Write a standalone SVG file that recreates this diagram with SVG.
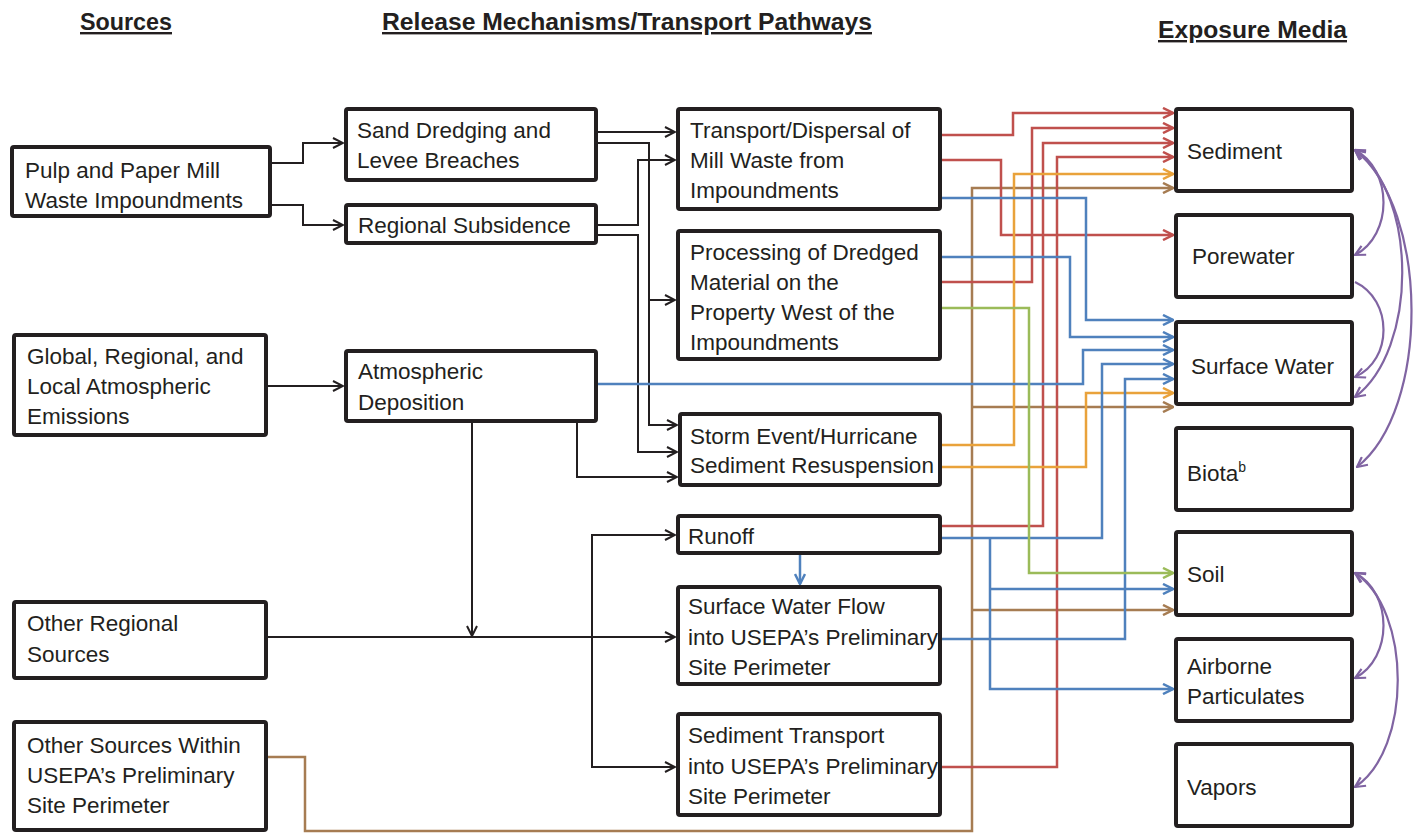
<svg xmlns="http://www.w3.org/2000/svg" width="1414" height="834" viewBox="0 0 1414 834">
<style>
.box{fill:#fff;stroke:#231f20;stroke-width:4}
.t{font-family:"Liberation Sans",Arial,sans-serif;font-size:22.5px;fill:#231f20}
.h{font-family:"Liberation Sans",Arial,sans-serif;font-weight:bold;font-size:24px;fill:#231f20;text-decoration:underline}
.k{fill:none;stroke:#231f20;stroke-width:2;marker-end:url(#mk)}
.kn{fill:none;stroke:#231f20;stroke-width:2}
.r{fill:none;stroke:#c0504d;stroke-width:2.5;marker-end:url(#mr)}
.b{fill:none;stroke:#4f81bd;stroke-width:2.5;marker-end:url(#mb)}
.bn{fill:none;stroke:#4f81bd;stroke-width:2.5}
.o{fill:none;stroke:#e9a23b;stroke-width:2.5;marker-end:url(#mo)}
.br{fill:none;stroke:#a67c52;stroke-width:2.5;marker-end:url(#mbr)}
.brn{fill:none;stroke:#a67c52;stroke-width:2.5}
.g{fill:none;stroke:#9bbb59;stroke-width:2.5;marker-end:url(#mg)}
.p{fill:none;stroke:#8064a2;stroke-width:2.2;marker-end:url(#mp);marker-start:url(#mp)}
.p1{fill:none;stroke:#8064a2;stroke-width:2.2;marker-end:url(#mp)}
</style>
<defs>
<marker id="mk" viewBox="0 0 12 12" refX="11" refY="6" markerWidth="12" markerHeight="12" markerUnits="userSpaceOnUse" orient="auto-start-reverse"><path d="M1,1 L11,6 L1,11" fill="none" stroke="#231f20" stroke-width="2"/></marker>
<marker id="mr" viewBox="0 0 12 12" refX="11" refY="6" markerWidth="12" markerHeight="12" markerUnits="userSpaceOnUse" orient="auto-start-reverse"><path d="M1,1 L11,6 L1,11" fill="none" stroke="#c0504d" stroke-width="2.5"/></marker>
<marker id="mb" viewBox="0 0 12 12" refX="11" refY="6" markerWidth="12" markerHeight="12" markerUnits="userSpaceOnUse" orient="auto-start-reverse"><path d="M1,1 L11,6 L1,11" fill="none" stroke="#4f81bd" stroke-width="2.5"/></marker>
<marker id="mo" viewBox="0 0 12 12" refX="11" refY="6" markerWidth="12" markerHeight="12" markerUnits="userSpaceOnUse" orient="auto-start-reverse"><path d="M1,1 L11,6 L1,11" fill="none" stroke="#e9a23b" stroke-width="2.5"/></marker>
<marker id="mbr" viewBox="0 0 12 12" refX="11" refY="6" markerWidth="12" markerHeight="12" markerUnits="userSpaceOnUse" orient="auto-start-reverse"><path d="M1,1 L11,6 L1,11" fill="none" stroke="#a67c52" stroke-width="2.5"/></marker>
<marker id="mg" viewBox="0 0 12 12" refX="11" refY="6" markerWidth="12" markerHeight="12" markerUnits="userSpaceOnUse" orient="auto-start-reverse"><path d="M1,1 L11,6 L1,11" fill="none" stroke="#9bbb59" stroke-width="2.5"/></marker>
<marker id="mp" viewBox="0 0 12 12" refX="11" refY="6" markerWidth="12" markerHeight="12" markerUnits="userSpaceOnUse" orient="auto-start-reverse"><path d="M1,1 L11,6 L1,11" fill="none" stroke="#8064a2" stroke-width="2.2"/></marker>
</defs>
<rect width="1414" height="834" fill="#fff"/>

<g id="headers">
<text class="h" x="80" y="30" textLength="92" lengthAdjust="spacingAndGlyphs">Sources</text>
<text class="h" x="382" y="30" textLength="490" lengthAdjust="spacingAndGlyphs">Release Mechanisms/Transport Pathways</text>
<text class="h" x="1158" y="38" textLength="189" lengthAdjust="spacingAndGlyphs">Exposure Media</text>
</g>

<g id="connectors">
<!-- black -->
<path class="k" d="M272,163 H303 V143 H343"/>
<path class="k" d="M272,205 H303 V225 H343"/>
<path class="k" d="M598,132 H675"/>
<path class="k" d="M598,143 H649 V425 H677"/>
<path class="k" d="M649,300 H675"/>
<path class="k" d="M598,225 H638 V160 H675"/>
<path class="k" d="M598,235 H638 V452 H677"/>
<path class="k" d="M577,423 V477 H677"/>
<path class="k" d="M268,386 H343"/>
<path class="k" d="M472,423 V636"/>
<path class="k" d="M268,637 H675"/>
<path class="k" d="M592,637 V535 H675"/>
<path class="k" d="M592,637 V767 H675"/>
<path class="b" d="M800,555 V584"/>
<!-- brown -->
<path class="br" d="M268,757 H305 V831 H972 V188 H1173"/>
<path class="br" d="M972,407 H1173"/>
<path class="br" d="M972,610 H1173"/>
<!-- red -->
<path class="r" d="M942,135 H1013 V113 H1173"/>
<path class="r" d="M942,160 H1001 V235 H1173"/>
<path class="r" d="M942,282 H1032 V128 H1173"/>
<path class="r" d="M942,526 H1043 V143 H1173"/>
<path class="r" d="M942,767 H1057 V157 H1173"/>
<!-- orange -->
<path class="o" d="M942,445 H1014 V174 H1173"/>
<path class="o" d="M942,467 H1086 V393 H1173"/>
<!-- blue -->
<path class="b" d="M942,198 H1086 V320 H1173"/>
<path class="b" d="M942,257 H1070 V337 H1173"/>
<path class="b" d="M598,384 H1083 V350 H1173"/>
<path class="b" d="M942,538 H1102 V364 H1173"/>
<path class="b" d="M942,639 H1125 V379 H1173"/>
<path class="b" d="M990,538 V689 H1173"/>
<path class="b" d="M990,589 H1173"/>
<!-- green -->
<path class="g" d="M942,308 H1029 V573 H1173"/>
<!-- purple -->
<path class="p" d="M1355,150 C1393,170 1393,235 1355,255"/>
<path class="p1" d="M1355,282 C1393,300 1393,360 1355,377"/>
<path class="p" d="M1355,150 C1418,195 1418,350 1355,397"/>
<path class="p" d="M1355,150 C1430,210 1430,410 1357,467"/>
<path class="p" d="M1355,573 C1393,593 1393,658 1355,678"/>
<path class="p" d="M1355,573 C1412,610 1412,750 1355,787"/>
</g>

<g id="n-pulp"><rect class="box" x="12" y="147" width="258" height="69" rx="2"/>
<text class="t" x="25" y="178">Pulp and Paper Mill</text><text class="t" x="25" y="208">Waste Impoundments</text></g>
<g id="n-global"><rect class="box" x="14" y="335" width="252" height="100" rx="2"/>
<text class="t" x="27" y="364">Global, Regional, and</text><text class="t" x="27" y="394">Local Atmospheric</text><text class="t" x="27" y="424">Emissions</text></g>
<g id="n-otherregional"><rect class="box" x="14" y="602" width="252" height="76" rx="2"/>
<text class="t" x="27" y="631">Other Regional</text><text class="t" x="27" y="662">Sources</text></g>
<g id="n-othersources"><rect class="box" x="14" y="722" width="252" height="108" rx="2"/>
<text class="t" x="27" y="753">Other Sources Within</text><text class="t" x="27" y="783">USEPA’s Preliminary</text><text class="t" x="27" y="813">Site Perimeter</text></g>

<g id="n-sand"><rect class="box" x="346" y="109" width="250" height="71" rx="2"/>
<text class="t" x="357" y="138">Sand Dredging and</text><text class="t" x="357" y="168">Levee Breaches</text></g>
<g id="n-subsidence"><rect class="box" x="346" y="205" width="250" height="38" rx="2"/>
<text class="t" x="358" y="233">Regional Subsidence</text></g>
<g id="n-atmos"><rect class="box" x="346" y="351" width="250" height="70" rx="2"/>
<text class="t" x="358" y="379">Atmospheric</text><text class="t" x="358" y="410">Deposition</text></g>

<g id="n-transport"><rect class="box" x="678" y="109" width="262" height="100" rx="2"/>
<text class="t" x="690" y="138">Transport/Dispersal of</text><text class="t" x="690" y="168">Mill Waste from</text><text class="t" x="690" y="198">Impoundments</text></g>
<g id="n-processing"><rect class="box" x="678" y="231" width="262" height="128" rx="2"/>
<text class="t" x="690" y="260">Processing of Dredged</text><text class="t" x="690" y="290">Material on the</text><text class="t" x="690" y="320">Property West of the</text><text class="t" x="690" y="350">Impoundments</text></g>
<g id="n-storm"><rect class="box" x="680" y="414" width="260" height="71" rx="2"/>
<text class="t" x="690" y="444">Storm Event/Hurricane</text><text class="t" x="690" y="473">Sediment Resuspension</text></g>
<g id="n-runoff"><rect class="box" x="678" y="516" width="262" height="37" rx="2"/>
<text class="t" x="688" y="544">Runoff</text></g>
<g id="n-swflow"><rect class="box" x="678" y="587" width="262" height="97" rx="2"/>
<text class="t" x="688" y="614">Surface Water Flow</text><text class="t" x="688" y="645">into USEPA’s Preliminary</text><text class="t" x="688" y="675">Site Perimeter</text></g>
<g id="n-sedtransport"><rect class="box" x="678" y="714" width="262" height="101" rx="2"/>
<text class="t" x="688" y="743">Sediment Transport</text><text class="t" x="688" y="774">into USEPA’s Preliminary</text><text class="t" x="688" y="804">Site Perimeter</text></g>

<g id="n-sediment"><rect class="box" x="1176" y="109" width="176" height="82" rx="2"/>
<text class="t" x="1187" y="159">Sediment</text></g>
<g id="n-porewater"><rect class="box" x="1176" y="215" width="176" height="82" rx="2"/>
<text class="t" x="1192" y="264">Porewater</text></g>
<g id="n-surfacewater"><rect class="box" x="1176" y="322" width="176" height="82" rx="2"/>
<text class="t" x="1191" y="374">Surface Water</text></g>
<g id="n-biota"><rect class="box" x="1176" y="428" width="176" height="82" rx="2"/>
<text class="t" x="1187" y="481">Biota<tspan font-size="14" dy="-9">b</tspan></text></g>
<g id="n-soil"><rect class="box" x="1176" y="532" width="176" height="83" rx="2"/>
<text class="t" x="1187" y="582">Soil</text></g>
<g id="n-airborne"><rect class="box" x="1176" y="639" width="176" height="82" rx="2"/>
<text class="t" x="1187" y="674">Airborne</text><text class="t" x="1187" y="704">Particulates</text></g>
<g id="n-vapors"><rect class="box" x="1176" y="744" width="176" height="82" rx="2"/>
<text class="t" x="1187" y="795">Vapors</text></g>
</svg>
